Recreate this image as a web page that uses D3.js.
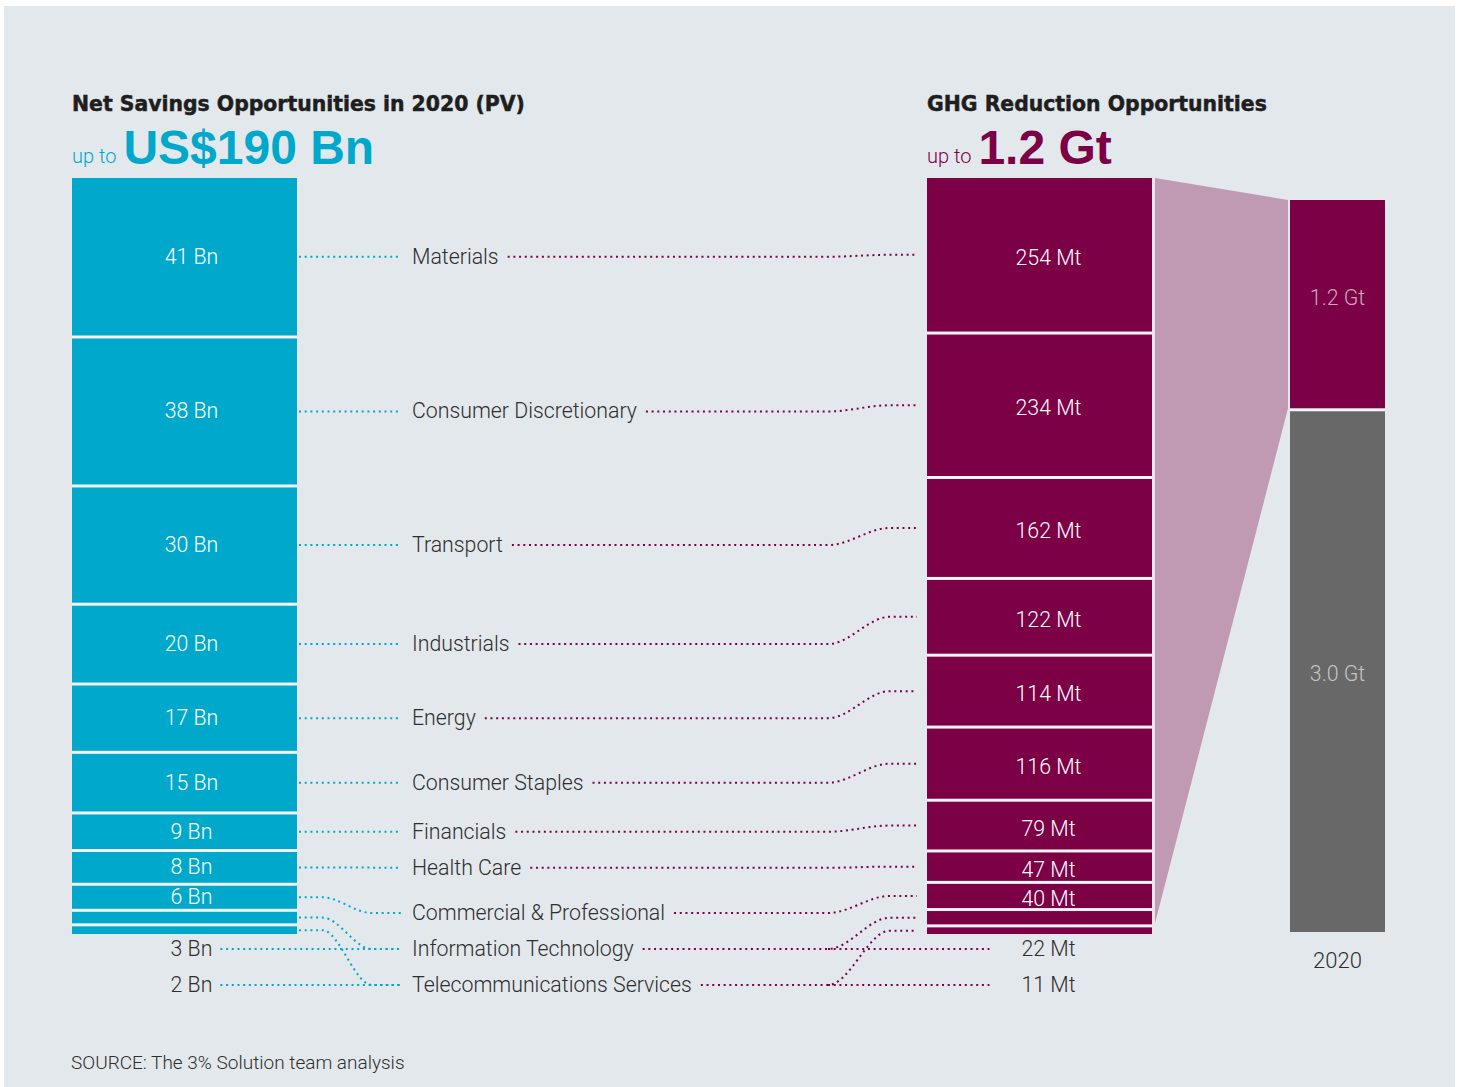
<!DOCTYPE html>
<html>
<head>
<meta charset="utf-8">
<script src="https://cdn.jsdelivr.net/npm/d3@7"></script>
<style>
  html, body { margin: 0; padding: 0; background: #ffffff; }
  svg { display: block; }
  .light { font-family: Roboto, "Liberation Sans", sans-serif; font-weight: 300; }
  .heavy { font-family: "DejaVu Sans", "Liberation Sans", sans-serif; font-weight: 700; }
  .big { font-family: "Liberation Sans", Arial, sans-serif; font-weight: 700; }
</style>
</head>
<body>
<script>
// Sector breakdown of 2020 opportunities
const sectors = [
  "Materials", "Consumer Discretionary", "Transport", "Industrials", "Energy",
  "Consumer Staples", "Financials", "Health Care", "Commercial & Professional",
  "Information Technology", "Telecommunications Services"
];
const savingsBn = [41, 38, 30, 20, 17, 15, 9, 8, 6, 3, 2];
const ghgMt = [254, 234, 162, 122, 114, 116, 79, 47, 40, 22, 11];

// 2020 emissions split: reduction opportunity vs remainder
const emissionLabels = ["1.2 Gt", "3.0 Gt"];
const emissionGt = [1.2, 3.0];
const emissionYear = ["2020"];

const W = 1462, H = 1087;
const CYAN = "#00a8cc", MAGENTA = "#7c0046", PINK = "#c09ab2", GREY = "#686868";
const BG = "#e3e8ec", GAPC = "#f3f5f7", TEXT = "#2e2e2e";

const svg = d3.select("body").append("svg").attr("width", W).attr("height", H);
svg.append("rect").attr("x", 4).attr("y", 6).attr("width", 1451).attr("height", H - 6).attr("fill", BG);

// ---- geometry of the two stacks
const stackTop = 178, stackBottom = 934, gap = 3;
const leftX = 72, leftW = 225;
const rightX = 927, rightW = 225;
const n = sectors.length;
const insideMin = 16;
const labelSize = 21.3;

function layoutStack(values) {
  const total = d3.sum(values);
  const scale = d3.scaleLinear().domain([0, total])
    .range([0, (stackBottom - stackTop) - gap * (values.length - 1)]);
  let acc = 0;
  return values.map((v, i) => {
    const y0 = stackTop + scale(acc) + gap * i;
    const h = scale(v);
    acc += v;
    return { v, y0, h, cy: y0 + h / 2 };
  });
}
const leftBars = layoutStack(savingsBn);
const rightBars = layoutStack(ghgMt);

// ---- headers
function header(x, title, amount, color) {
  svg.append("text").attr("class", "heavy").attr("x", x).attr("y", 111)
    .attr("font-size", 20.4).attr("fill", "#1e1e1e")
    .attr("stroke", "#1e1e1e").attr("stroke-width", 0.5).text(title);
  const up = svg.append("text").attr("class", "light").attr("x", x).attr("y", 163)
    .attr("font-size", 20).attr("fill", color).text("up to");
  const upW = up.node().getComputedTextLength();
  svg.append("text").attr("class", "big").attr("x", x + upW + 7).attr("y", 164)
    .attr("font-size", 48).attr("fill", color).text(amount);
}
header(leftX, "Net Savings Opportunities in 2020 (PV)", "US$190 Bn", CYAN);
header(rightX, "GHG Reduction Opportunities", "1.2 Gt", MAGENTA);

// ---- 2020 total column
const colX = 1290, colW = 95, colBottom = 932, colTop = 200;
const colScale = d3.scaleLinear().domain([0, d3.sum(emissionGt)])
  .range([0, colBottom - colTop - gap]);
const colBars = [];
{
  let y = colTop;
  emissionGt.forEach((v, i) => {
    const h = colScale(v);
    colBars.push({ v, y0: y, h, cy: y + h / 2, label: emissionLabels[i] });
    y += h + gap;
  });
}

// funnel from the GHG stack to the reduction share of the 2020 column
const lastBar = rightBars[n - 1];
svg.append("path")
  .attr("d", d3.line()([
    [rightX + rightW + 3, stackTop],
    [colX - 2, colBars[0].y0],
    [colX - 2, colBars[0].y0 + colBars[0].h],
    [rightX + rightW + 3, lastBar.y0 - 4]
  ]) + "Z")
  .attr("fill", PINK);

// ---- stacks
function drawStack(bars, x, w, color) {
  svg.append("rect").attr("x", x).attr("y", stackTop).attr("width", w)
    .attr("height", stackBottom - stackTop).attr("fill", GAPC);
  svg.append("g").selectAll("rect").data(bars).join("rect")
    .attr("x", x).attr("y", d => d.y0).attr("width", w).attr("height", d => d.h)
    .attr("fill", color);
}
drawStack(leftBars, leftX, leftW, CYAN);
drawStack(rightBars, rightX, rightW, MAGENTA);

svg.append("rect").attr("x", colX).attr("y", colTop).attr("width", colW)
  .attr("height", colBottom - colTop).attr("fill", GAPC);
svg.append("g").selectAll("rect").data(colBars).join("rect")
  .attr("x", colX).attr("y", d => d.y0).attr("width", colW).attr("height", d => d.h)
  .attr("fill", (d, i) => i === 0 ? MAGENTA : GREY);
svg.append("g").selectAll("text").data(colBars).join("text")
  .attr("class", "light").attr("x", colX + colW / 2)
  .attr("y", (d, i) => d.cy + (i === 0 ? 1 : 9))
  .attr("text-anchor", "middle").attr("font-size", labelSize)
  .attr("fill", (d, i) => i === 0 ? "#cfa6bf" : "#c4c4c4").text(d => d.label);
svg.append("text").attr("class", "light").attr("x", colX + colW / 2).attr("y", 968)
  .attr("text-anchor", "middle").attr("font-size", 22).attr("fill", TEXT).text(emissionYear[0]);

// ---- category label rows: centred on the savings bar, kept 36px apart;
// the rows for slim bars sit on a grid anchored just below the stacks
const minRow = 36;
const firstOutside = leftBars.findIndex(b => b.h < insideMin);
const labelY = [];
leftBars.forEach((b, i) => {
  let y = b.cy;
  if (i > 0) y = Math.max(y, labelY[i - 1] + minRow);
  if (i >= firstOutside - 1) y = Math.max(y, stackBottom + 15 + minRow * (i - firstOutside));
  labelY.push(y);
});

const labelX = 412;
const labelEnds = [];
const catG = svg.append("g");
sectors.forEach((s, i) => {
  const t = catG.append("text").attr("class", "light").attr("x", labelX).attr("y", labelY[i] + 7)
    .attr("font-size", labelSize).attr("fill", TEXT).text(s);
  labelEnds.push(labelX + t.node().getComputedTextLength());
});

// ---- dotted connectors
function connector(x0, y0, xa, xb, x1, y1) {
  const p = d3.path();
  p.moveTo(x0, y0);
  if (Math.abs(y1 - y0) < 0.5) {
    p.lineTo(x1, y1);
  } else {
    p.lineTo(xa, y0);
    const dx = xb - xa;
    p.bezierCurveTo(xa + dx * 0.35, y0, xb - dx * 0.35, y1, xb, y1);
    p.lineTo(x1, y1);
  }
  return p.toString();
}
function dotted(d, color) {
  svg.append("path").attr("d", d).attr("fill", "none").attr("stroke", color)
    .attr("stroke-width", 2).attr("stroke-dasharray", "2 3.7");
}

leftBars.forEach((b, i) => {
  dotted(connector(leftX + leftW + 2, b.cy, 322, 372, 401, labelY[i]), CYAN);
});
rightBars.forEach((b, i) => {
  dotted(connector(labelEnds[i] + 9, labelY[i], 828, 890, 917, b.cy), MAGENTA);
});

// ---- value labels
const leftLabelX = leftX + leftW / 2 + 7;
const rightLabelX = rightX + rightW / 2 + 9;
leftBars.forEach((b, i) => {
  const inside = b.h >= insideMin;
  const t = svg.append("text").attr("class", "light")
    .attr("x", leftLabelX).attr("y", (inside ? b.cy : labelY[i]) + 7)
    .attr("text-anchor", "middle").attr("font-size", labelSize)
    .attr("fill", inside ? "#ffffff" : TEXT).text(b.v + " Bn");
  if (!inside) {
    const end = leftLabelX + t.node().getComputedTextLength() / 2;
    dotted(`M${end + 8},${labelY[i]}H401`, CYAN);
  }
});
rightBars.forEach((b, i) => {
  const inside = b.h >= insideMin;
  const t = svg.append("text").attr("class", "light")
    .attr("x", rightLabelX).attr("y", (inside ? b.cy + 3 : labelY[i]) + 7)
    .attr("text-anchor", "middle").attr("font-size", labelSize)
    .attr("fill", inside ? "#ffffff" : TEXT).text(b.v + " Mt");
  if (!inside) {
    const start = rightLabelX - t.node().getComputedTextLength() / 2;
    dotted(`M828,${labelY[i]}H${start - 32}`, MAGENTA);
  }
});

// ---- source note
svg.append("text").attr("class", "light").attr("x", 71).attr("y", 1069)
  .attr("font-size", 19).attr("fill", TEXT).text("SOURCE: The 3% Solution team analysis");
</script>
</body>
</html>
